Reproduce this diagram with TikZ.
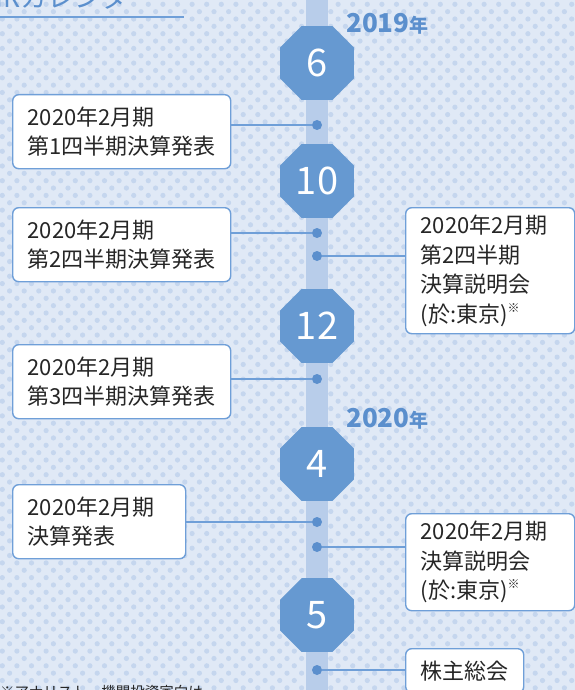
\documentclass[tikz,border=0pt]{standalone}
\usepackage{fontspec}
\setmainfont{Noto Sans CJK JP}
\usetikzlibrary{shapes.geometric}
\definecolor{bgc}{HTML}{E0E9F6}
\definecolor{dotc}{HTML}{C5D6EE}
\definecolor{barc}{HTML}{B8CDEA}
\definecolor{octc}{HTML}{6699D1}
\definecolor{accc}{HTML}{5B8FCD}
\definecolor{linec}{HTML}{6F9FD8}
\definecolor{txtc}{HTML}{262626}
\begin{document}
\begin{tikzpicture}[x=1pt,y=-1pt,
 oct/.style={regular polygon, regular polygon sides=8, minimum size=80pt, inner sep=0pt, fill=octc, text=white, font=\fontsize{38}{38}\selectfont},
 tdot/.style={circle, fill=accc, minimum size=10pt, inner sep=0pt},
 ibox/.style={draw=linec, line width=1.4pt, fill=white, rounded corners=6pt, anchor=north west, align=left, inner xsep=15pt, inner ysep=0pt, text=txtc, font=\fontsize{22}{29.5}\selectfont},
 conn/.style={draw=linec, line width=1.3pt},
 yearlbl/.style={text=accc, font=\bfseries\fontsize{26}{26}\selectfont, inner sep=0pt, anchor=base west}
]
\useasboundingbox (0,0) rectangle (575,690);
\clip (0,0) rectangle (575,690);
\fill[bgc] (0,0) rectangle (575,690);
\foreach \i in {0,...,94}{
  \pgfmathsetmacro\yy{4.3+7.35*\i}
  \pgfmathsetmacro\off{mod(\i,2)*7.3}
  \foreach \j in {0,...,40}{
    \fill[dotc] ({2.3+\off+14.6*\j},\yy) circle (2.6pt);
  }
}
\fill[barc] (306,0) rectangle (328,690);

% title
\node[anchor=base west, text=accc, font=\fontsize{27}{27}\selectfont, inner sep=0pt] (title) at (-5,8) {IRカレンダー};
\draw[conn, line width=1.2pt] (0,17) -- (184,17);

% years
\node[yearlbl] (y2019) at (346,33) {2019{\fontsize{19}{19}\selectfont 年}};
\node[yearlbl] (y2020) at (346,427) {2020{\fontsize{19}{19}\selectfont 年}};

% months
\node[oct] (o6) at (317,63) {6};
\node[oct] (o10) at (317,181) {10};
\node[oct] (o12) at (317,326) {12};
\node[oct] (o4) at (317,464) {4};
\node[oct] (o5) at (317,615) {5};

% timeline dots
\node[tdot] (d1) at (317,125) {};
\node[tdot] (d2) at (317,233) {};
\node[tdot] (d3) at (317,256) {};
\node[tdot] (d4) at (317,379) {};
\node[tdot] (d5) at (317,522) {};
\node[tdot] (d6) at (317,547) {};
\node[tdot] (d7) at (317,670) {};

% boxes
\node[ibox, text width=188pt, minimum height=74pt] (b1) at (12,94) {2020年2月期\\第1四半期決算発表};
\node[ibox, text width=188pt, minimum height=74pt] (b2) at (12,207) {2020年2月期\\第2四半期決算発表};
\node[ibox, text width=188pt, minimum height=74pt] (b3) at (12,344) {2020年2月期\\第3四半期決算発表};
\node[ibox, text width=143pt, minimum height=74pt] (b4) at (12,484) {2020年2月期\\決算発表};
\node[ibox, text width=139pt, minimum height=126pt] (r1) at (405,207) {2020年2月期\\第2四半期\\決算説明会\\(於:東京)\raisebox{0.45em}{\fontsize{12}{12}\selectfont ※}};
\node[ibox, text width=139pt, minimum height=97pt] (r2) at (405,513) {2020年2月期\\決算説明会\\(於:東京)\raisebox{0.45em}{\fontsize{12}{12}\selectfont ※}};
\node[ibox, align=center, inner xsep=12pt, text width=94pt, minimum height=44pt] (r3) at (405,648) {株主総会};

% connectors
\draw[conn] (d1.west) -- (d1.west -| b1.east);
\draw[conn] (d2.west) -- (d2.west -| b2.east);
\draw[conn] (d3.east) -- (d3.east -| r1.west);
\draw[conn] (d4.west) -- (d4.west -| b3.east);
\draw[conn] (d5.west) -- (d5.west -| b4.east);
\draw[conn] (d6.east) -- (d6.east -| r2.west);
\draw[conn] (d7.east) -- (d7.east -| r3.west);

% footnote
\node[anchor=base west, text=txtc, font=\fontsize{14.5}{14.5}\selectfont, inner sep=0pt] (note) at (0,697) {※アナリスト・機関投資家向け};
\end{tikzpicture}
\end{document}
